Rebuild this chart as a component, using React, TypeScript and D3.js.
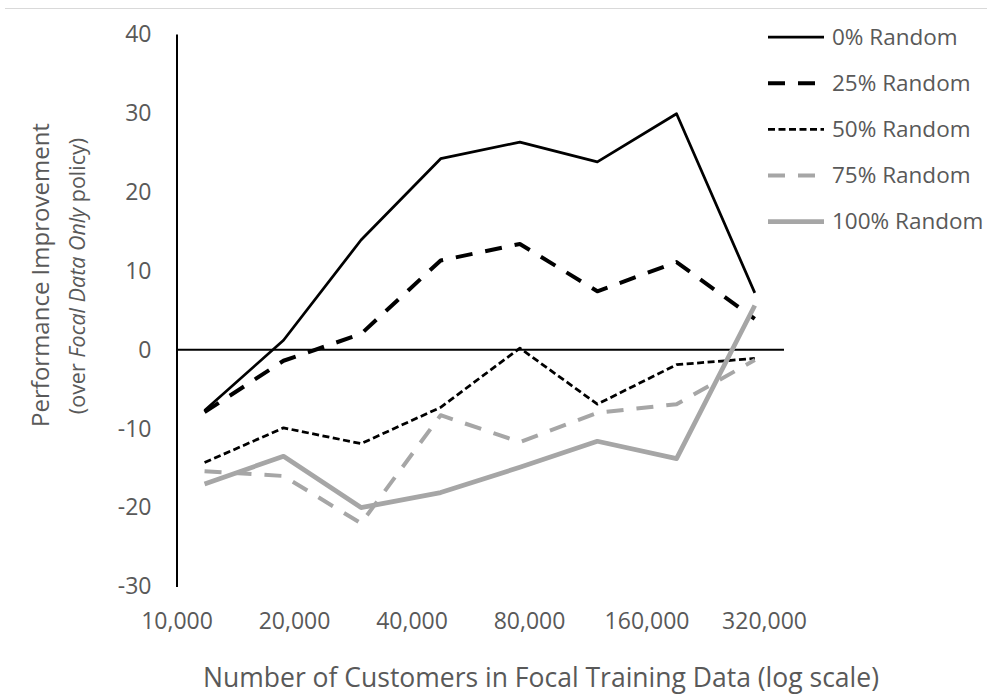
import React, { useRef, useEffect } from "react";
import * as d3 from "d3";

// customers in focal training data (log x)
const customers = [11800, 18800, 29700, 47500, 75800, 119700, 191000, 303000];

const random0 = [-7.7, 1.2, 13.9, 24.2, 26.3, 23.8, 29.9, 7.2];
const random25 = [-7.9, -1.4, 2.0, 11.3, 13.4, 7.4, 11.1, 3.9];
const random50 = [-14.3, -9.9, -11.9, -7.3, 0.2, -6.9, -1.9, -1.1];
const random75 = [-15.4, -16.0, -22.0, -8.3, -11.7, -8.0, -6.9, -1.3];
const random100 = [-17.0, -13.5, -20.0, -18.1, -14.9, -11.6, -13.8, 5.6];

const seriesNames = ["0% Random", "25% Random", "50% Random", "75% Random", "100% Random"];
const seriesValues = [random0, random25, random50, random75, random100];

const xTicks = [10000, 20000, 40000, 80000, 160000, 320000];
const yTicks = [-30, -20, -10, 0, 10, 20, 30, 40];

const styles = [
  { color: "#000000", width: 2.75, dash: null },
  { color: "#000000", width: 4, dash: "17 13" },
  { color: "#000000", width: 2.75, dash: "7 3.5" },
  { color: "#a6a6a6", width: 4, dash: "17 13" },
  { color: "#a6a6a6", width: 4.75, dash: null },
];

const FONT = "'Open Sans', sans-serif";
const TEXT = "#595959";

const App = () => {
  const svgRef = useRef<SVGSVGElement>(null);

  useEffect(() => {
    const svg = d3.select(svgRef.current);
    svg.selectAll("*").remove();

    const x = d3.scaleLog().domain([10000, 360000]).range([176.5, 784]);
    const y = d3.scaleLinear().domain([-30, 40]).range([586.5, 34]);

    // top border
    svg.append("line")
      .attr("x1", 5).attr("x2", 987)
      .attr("y1", 8.5).attr("y2", 8.5)
      .attr("stroke", "#d9d9d9").attr("stroke-width", 1);

    // y axis
    const yAxis = svg.append("g")
      .attr("transform", `translate(${x.range()[0]},0)`)
      .call(d3.axisLeft(y).tickValues(yTicks).tickSize(0).tickPadding(25).tickFormat((d) => String(d)));
    yAxis.select(".domain").attr("stroke", "#000").attr("stroke-width", 2);
    yAxis.selectAll("text")
      .attr("font-family", FONT).attr("font-size", 23).attr("fill", TEXT);

    // x axis labels
    const xAxis = svg.append("g")
      .attr("transform", `translate(0,${y(-30)})`)
      .call(d3.axisBottom(x).tickValues(xTicks).tickSize(0).tickPadding(26).tickFormat(d3.format(",")));
    xAxis.select(".domain").remove();
    xAxis.selectAll("text")
      .attr("font-family", FONT).attr("font-size", 23).attr("fill", TEXT);

    // zero line
    svg.append("line")
      .attr("x1", x.range()[0]).attr("x2", x.range()[1])
      .attr("y1", y(0)).attr("y2", y(0))
      .attr("stroke", "#000").attr("stroke-width", 2);

    // series
    const line = d3.line<number>()
      .x((d, i) => x(customers[i]))
      .y((d) => y(d));

    seriesValues.forEach((vals, i) => {
      const s = styles[i];
      const p = svg.append("path")
        .attr("d", line(vals))
        .attr("fill", "none")
        .attr("stroke", s.color)
        .attr("stroke-width", s.width)
        .attr("stroke-linejoin", "round");
      if (s.dash) p.attr("stroke-dasharray", s.dash);
    });

    // legend
    const legendY = d3.scalePoint().domain(seriesNames).range([37, 221.5]);
    const legend = svg.append("g");
    seriesNames.forEach((name, i) => {
      const s = styles[i];
      const ly = legendY(name);
      const l = legend.append("line")
        .attr("x1", 768).attr("x2", 824)
        .attr("y1", ly).attr("y2", ly)
        .attr("stroke", s.color).attr("stroke-width", s.width);
      if (s.dash) l.attr("stroke-dasharray", s.dash);
      legend.append("text")
        .attr("x", 832).attr("y", ly)
        .attr("dy", "0.35em")
        .attr("font-family", FONT).attr("font-size", 22.5).attr("fill", TEXT)
        .text(name);
    });

    // axis titles
    svg.append("text")
      .attr("x", 541).attr("y", 687)
      .attr("text-anchor", "middle")
      .attr("font-family", FONT).attr("font-size", 26.5).attr("fill", TEXT)
      .text("Number of Customers in Focal Training Data (log scale)");

    svg.append("text")
      .attr("transform", "translate(49,275) rotate(-90)")
      .attr("text-anchor", "middle")
      .attr("font-family", FONT).attr("font-size", 24).attr("fill", TEXT)
      .text("Performance Improvement");

    const sub = svg.append("text")
      .attr("transform", "translate(85,276) rotate(-90)")
      .attr("text-anchor", "middle")
      .attr("font-family", FONT).attr("font-size", 21.5).attr("fill", TEXT);
    sub.append("tspan").text("(over ");
    sub.append("tspan").attr("font-style", "italic").text("Focal Data Only");
    sub.append("tspan").text(" policy)");
  }, []);

  return (
    <svg
      ref={svgRef}
      width={987}
      height={700}
      style={{ position: "absolute", left: 0, top: 0, background: "#fff" }}
    />
  );
};

export default App;
